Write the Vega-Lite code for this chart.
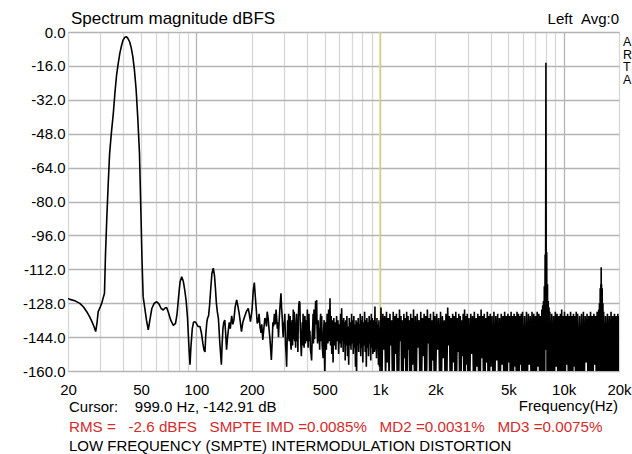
{
  "$schema": "https://vega.github.io/schema/vega-lite/v6.json",
  "width": 551,
  "height": 339,
  "autosize": {"type": "none"},
  "padding": {"left": 68, "top": 32, "right": 13, "bottom": 83},
  "background": "white",
  "config": {
    "font": "Liberation Sans",
    "view": {"stroke": "#a0a0a0", "strokeWidth": 1},
    "text": {"font": "Liberation Sans", "color": "black"}
  },
  "data": {"values": [
    {"f":20,"db":-125.8},{"f":20.5,"db":-126.2},{"f":22,"db":-127},{"f":23.2,"db":-128.1},{"f":24.3,"db":-129.8},{"f":25.3,"db":-132},{"f":26.2,"db":-134.3},{"f":27,"db":-136.7},{"f":27.7,"db":-139},{"f":28.3,"db":-141.4},{"f":28.8,"db":-137},{"f":29.2,"db":-132},{"f":29.9,"db":-130},{"f":30.5,"db":-128.1},{"f":31.1,"db":-125.5},{"f":31.6,"db":-123.3},{"f":32,"db":-105},{"f":32.5,"db":-88.7},{"f":33.1,"db":-72},{"f":33.7,"db":-57.3},{"f":34.5,"db":-47},{"f":35.3,"db":-38.4},{"f":36,"db":-29},{"f":36.7,"db":-21.1},{"f":37.5,"db":-15},{"f":38.3,"db":-10.1},{"f":39.1,"db":-6.5},{"f":39.9,"db":-3.8},{"f":40.7,"db":-2.6},{"f":41.5,"db":-2.2},{"f":42.3,"db":-2.9},{"f":43.3,"db":-4.6},{"f":44.2,"db":-7.5},{"f":45.1,"db":-11.7},{"f":46,"db":-18},{"f":47,"db":-27.4},{"f":48,"db":-41},{"f":49,"db":-57.3},{"f":50,"db":-88.7},{"f":50.6,"db":-108},{"f":51.3,"db":-124.9},{"f":52.3,"db":-130},{"f":53.5,"db":-136},{"f":54.7,"db":-140.6},{"f":55.7,"db":-136.5},{"f":57.2,"db":-130.5},{"f":59,"db":-128},{"f":60.8,"db":-127.3},{"f":62.5,"db":-128.3},{"f":64.3,"db":-130.5},{"f":66,"db":-131.2},{"f":67.5,"db":-130.3},{"f":68.9,"db":-130},{"f":70.5,"db":-132.5},{"f":72.5,"db":-136},{"f":74.9,"db":-138.5},{"f":77,"db":-137.5},{"f":78.5,"db":-133},{"f":80,"db":-125},{"f":81.5,"db":-118},{"f":83.2,"db":-115.5},{"f":84.8,"db":-117.5},{"f":86.5,"db":-122},{"f":88,"db":-127},{"f":89.5,"db":-135},{"f":91,"db":-148},{"f":92.3,"db":-157},{"f":93.5,"db":-148},{"f":95,"db":-140},{"f":96.5,"db":-137},{"f":98.3,"db":-136.7},{"f":100,"db":-137.5},{"f":102,"db":-139},{"f":104.6,"db":-139},{"f":106.5,"db":-142},{"f":108.5,"db":-147},{"f":110,"db":-150},{"f":111.4,"db":-151},{"f":112.5,"db":-143},{"f":114,"db":-137},{"f":115,"db":-135.1},{"f":116.5,"db":-134},{"f":118,"db":-129},{"f":120,"db":-120},{"f":121.5,"db":-114},{"f":123.6,"db":-111.5},{"f":125.5,"db":-115},{"f":127,"db":-121},{"f":128.5,"db":-128},{"f":130,"db":-132},{"f":131.7,"db":-135},{"f":132.5,"db":-138.3},{"f":134,"db":-146},{"f":135.5,"db":-152},{"f":136.8,"db":-157},{"f":138,"db":-148},{"f":139.5,"db":-140},{"f":141,"db":-137},{"f":142.8,"db":-136},{"f":144.3,"db":-142},{"f":146,"db":-150},{"f":147.5,"db":-145},{"f":149,"db":-141.4},{"f":151,"db":-137},{"f":153,"db":-140},{"f":155.7,"db":-134},{"f":158,"db":-138},{"f":160,"db":-136},{"f":162.5,"db":-130},{"f":165.7,"db":-126.5},{"f":168,"db":-129},{"f":171,"db":-132.8},{"f":173.5,"db":-137},{"f":176,"db":-141.4},{"f":179,"db":-137},{"f":183,"db":-134.4},{"f":187,"db":-132},{"f":191.7,"db":-130.4},{"f":194,"db":-133},{"f":197,"db":-136.7},{"f":201,"db":-131},{"f":204,"db":-122},{"f":206.8,"db":-118.3},{"f":209,"db":-124},{"f":212,"db":-131.2},{"f":214.5,"db":-137.5},{"f":217,"db":-136.7},{"f":219.5,"db":-133},{"f":222,"db":-139},{"f":225,"db":-142},{"f":227,"db":-138},{"f":230,"db":-145.3},{"f":233,"db":-140},{"f":236,"db":-135},{"f":238,"db":-135.8},{"f":241,"db":-139},{"f":243,"db":-132},{"f":246,"db":-135.1},{"f":248.5,"db":-140},{"f":251,"db":-144},{"f":253,"db":-148},{"f":256,"db":-154.8},{"f":259,"db":-145},{"f":261,"db":-137},{"f":263,"db":-139},{"f":266,"db":-133},{"f":269,"db":-138},{"f":271.5,"db":-131},{"f":273.6,"db":-135},{"f":276,"db":-140},{"f":278,"db":-137},{"f":280,"db":-144},{"f":282,"db":-137},{"f":285,"db":-130},{"f":288.8,"db":-123.3},{"f":291,"db":-130},{"f":293,"db":-134},{"f":295,"db":-140},{"f":297,"db":-144},{"f":299,"db":-137},
    {"f":300,"db":-140},{"f":303,"db":-133},{"f":306,"db":-148},{"f":308,"db":-152},{"f":310,"db":-158},{"f":312,"db":-146},{"f":314,"db":-136},{"f":316,"db":-145},{"f":318,"db":-133},{"f":320,"db":-146},{"f":322,"db":-139},{"f":324,"db":-134},{"f":326,"db":-147},{"f":328,"db":-150},{"f":330,"db":-140},{"f":332,"db":-136},{"f":334,"db":-148},{"f":337,"db":-131},{"f":339,"db":-145},{"f":341,"db":-132},{"f":343,"db":-146},{"f":345,"db":-138},{"f":347,"db":-149},{"f":349,"db":-137},{"f":351,"db":-133},{"f":353,"db":-146},{"f":355,"db":-138},{"f":357,"db":-151},{"f":359,"db":-135},{"f":361,"db":-129},{"f":363.5,"db":-127},{"f":366,"db":-128},{"f":368,"db":-140},{"f":370,"db":-146},{"f":371.5,"db":-150},{"f":373,"db":-153},{"f":375,"db":-145},{"f":377,"db":-137},{"f":379,"db":-148},{"f":381,"db":-133},{"f":383,"db":-145},{"f":386,"db":-149},{"f":388,"db":-137},{"f":390,"db":-134},{"f":392,"db":-147},{"f":395,"db":-140},{"f":398,"db":-136},{"f":400,"db":-146},{"f":402,"db":-131},{"f":404,"db":-144},{"f":406,"db":-149},{"f":408,"db":-138},{"f":410,"db":-133},{"f":413,"db":-146},{"f":415,"db":-141},{"f":418,"db":-150},{"f":421,"db":-152},{"f":424,"db":-155},{"f":427,"db":-144},{"f":430,"db":-139},{"f":432,"db":-133},{"f":434,"db":-147},{"f":437,"db":-131},{"f":440,"db":-145},{"f":443,"db":-134},{"f":446,"db":-127},{"f":449,"db":-138},{"f":451.7,"db":-126.5},{"f":454,"db":-140},{"f":457,"db":-147},{"f":460,"db":-136},{"f":463,"db":-146},{"f":466,"db":-140},{"f":469,"db":-150},{"f":472,"db":-137},{"f":475,"db":-133},{"f":478,"db":-146},{"f":481,"db":-134},{"f":484,"db":-148},{"f":487,"db":-151},{"f":490,"db":-154},{"f":493,"db":-141},{"f":496,"db":-136},{"f":498,"db":-152},
    {"f":500,"db":-163},{"f":505,"db":-137},{"f":510,"db":-150},{"f":515,"db":-133},{"f":520,"db":-147},{"f":525,"db":-131},{"f":530,"db":-146},{"f":534,"db":-125.7},{"f":538,"db":-148},{"f":542,"db":-134},{"f":546,"db":-152},{"f":550,"db":-136},{"f":555,"db":-156},{"f":560,"db":-135},{"f":565,"db":-148},{"f":570,"db":-137},{"f":575,"db":-150},{"f":580,"db":-134},{"f":585,"db":-146},{"f":590,"db":-136},{"f":595,"db":-152},{"f":600,"db":-138},{"f":605,"db":-147},{"f":610,"db":-133},{"f":614,"db":-149},{"f":618,"db":-130.4},{"f":622,"db":-146},{"f":626,"db":-136},{"f":630,"db":-151},{"f":634,"db":-135},{"f":638,"db":-147},{"f":642,"db":-137},{"f":646,"db":-155},{"f":650,"db":-136},{"f":655,"db":-148},{"f":660,"db":-134},{"f":665,"db":-153},{"f":670,"db":-139},{"f":675,"db":-157},{"f":680,"db":-135},{"f":685,"db":-148},{"f":690,"db":-137},{"f":695,"db":-150},{"f":700,"db":-133},{"f":705,"db":-147},{"f":710,"db":-136},{"f":715,"db":-152},{"f":720,"db":-134},{"f":725,"db":-149},{"f":730,"db":-138},{"f":735,"db":-158},{"f":740,"db":-136},{"f":745,"db":-162},{"f":750,"db":-137},{"f":755,"db":-148},{"f":760,"db":-135},{"f":765,"db":-151},{"f":770,"db":-138},{"f":775,"db":-147},{"f":780,"db":-133},{"f":785,"db":-153},{"f":790,"db":-136},{"f":795,"db":-149},{"f":800,"db":-134},{"f":806,"db":-156},{"f":812,"db":-137},{"f":818,"db":-148},{"f":824,"db":-132},{"f":830,"db":-151},{"f":836,"db":-136},{"f":842,"db":-158},{"f":848,"db":-135},{"f":854,"db":-149},{"f":860,"db":-137},{"f":866,"db":-153},{"f":872,"db":-134},{"f":878,"db":-147},{"f":884,"db":-136},{"f":890,"db":-155},{"f":896,"db":-133},{"f":902,"db":-149},{"f":908,"db":-135},{"f":914,"db":-152},{"f":920,"db":-136},{"f":926,"db":-150},{"f":932,"db":-151},{"f":938,"db":-129.6},{"f":944,"db":-150},{"f":950,"db":-137},{"f":956,"db":-154},{"f":962,"db":-135},{"f":968,"db":-149},{"f":974,"db":-138},{"f":980,"db":-157},{"f":986,"db":-136},{"f":992,"db":-158},{"f":996,"db":-140},{"f":1000,"db":-160},
    {"f":1012,"db":-130},{"f":1024,"db":-165},{"f":1036,"db":-133},{"f":1048,"db":-150},{"f":1060,"db":-134},{"f":1072,"db":-165},{"f":1084,"db":-132},{"f":1096,"db":-156},{"f":1108,"db":-135},{"f":1120,"db":-165},{"f":1132,"db":-133},{"f":1144,"db":-148},{"f":1156,"db":-136},{"f":1168,"db":-165},{"f":1180,"db":-132},{"f":1192,"db":-165},{"f":1204,"db":-134},{"f":1216,"db":-152},{"f":1228,"db":-133},{"f":1240,"db":-165},{"f":1252,"db":-135},{"f":1264,"db":-165},{"f":1276,"db":-131},{"f":1288,"db":-146},{"f":1300,"db":-134},{"f":1312,"db":-165},{"f":1324,"db":-136},{"f":1336,"db":-165},{"f":1348,"db":-133},{"f":1360,"db":-154},{"f":1372,"db":-135},{"f":1384,"db":-165},{"f":1396,"db":-132},{"f":1408,"db":-165},{"f":1420,"db":-134},{"f":1432,"db":-150},{"f":1444,"db":-136},{"f":1456,"db":-165},{"f":1468,"db":-133},{"f":1480,"db":-165},{"f":1492,"db":-135},
    {"f":1504,"db":-157},{"f":1522,"db":-131},{"f":1540,"db":-165},{"f":1558,"db":-134},{"f":1576,"db":-165},{"f":1594,"db":-133},{"f":1612,"db":-149},{"f":1630,"db":-136},{"f":1648,"db":-165},{"f":1666,"db":-132},{"f":1684,"db":-165},{"f":1702,"db":-135},{"f":1720,"db":-153},{"f":1738,"db":-133},{"f":1756,"db":-165},{"f":1774,"db":-134},{"f":1792,"db":-165},{"f":1810,"db":-131},{"f":1828,"db":-147},{"f":1846,"db":-135},{"f":1864,"db":-165},{"f":1882,"db":-133},{"f":1900,"db":-165},{"f":1918,"db":-136},{"f":1936,"db":-155},{"f":1954,"db":-132},{"f":1972,"db":-165},{"f":1990,"db":-134},
    {"f":2010,"db":-165},{"f":2035,"db":-133},{"f":2060,"db":-150},{"f":2085,"db":-135},{"f":2110,"db":-165},{"f":2135,"db":-132},{"f":2160,"db":-165},{"f":2185,"db":-134},{"f":2210,"db":-154},{"f":2235,"db":-136},{"f":2260,"db":-165},{"f":2285,"db":-133},{"f":2310,"db":-165},{"f":2335,"db":-130},{"f":2360,"db":-148},{"f":2385,"db":-134},{"f":2410,"db":-165},{"f":2435,"db":-135},{"f":2460,"db":-165},{"f":2485,"db":-133},{"f":2510,"db":-156},{"f":2535,"db":-134},{"f":2560,"db":-165},{"f":2585,"db":-132},{"f":2610,"db":-165},{"f":2635,"db":-135},{"f":2660,"db":-151},{"f":2685,"db":-133},{"f":2710,"db":-165},{"f":2735,"db":-134},{"f":2760,"db":-165},{"f":2785,"db":-136},{"f":2810,"db":-153},{"f":2835,"db":-133},{"f":2860,"db":-165},{"f":2885,"db":-131},{"f":2910,"db":-165},{"f":2935,"db":-134},{"f":2960,"db":-157},{"f":2985,"db":-133},
    {"f":3010,"db":-165},{"f":3046,"db":-135},{"f":3082,"db":-165},{"f":3118,"db":-133},{"f":3154,"db":-152},{"f":3190,"db":-134},{"f":3226,"db":-165},{"f":3262,"db":-132},{"f":3298,"db":-165},{"f":3334,"db":-135},{"f":3370,"db":-158},{"f":3406,"db":-133},{"f":3442,"db":-165},{"f":3478,"db":-134},{"f":3514,"db":-165},{"f":3550,"db":-131},{"f":3586,"db":-154},{"f":3622,"db":-134},{"f":3658,"db":-165},{"f":3694,"db":-133},{"f":3730,"db":-165},{"f":3766,"db":-135},{"f":3802,"db":-156},{"f":3838,"db":-132},{"f":3874,"db":-165},{"f":3910,"db":-134},{"f":3946,"db":-165},{"f":3982,"db":-133},
    {"f":4020,"db":-158},{"f":4070,"db":-134},{"f":4120,"db":-165},{"f":4170,"db":-132},{"f":4220,"db":-165},{"f":4270,"db":-134},{"f":4320,"db":-155},{"f":4370,"db":-133},{"f":4420,"db":-165},{"f":4470,"db":-135},{"f":4520,"db":-165},{"f":4570,"db":-133},{"f":4620,"db":-157},{"f":4670,"db":-134},{"f":4720,"db":-165},{"f":4770,"db":-132},{"f":4820,"db":-165},{"f":4870,"db":-134},{"f":4920,"db":-165},{"f":4970,"db":-133},{"f":5020,"db":-156},{"f":5070,"db":-134},{"f":5120,"db":-165},{"f":5170,"db":-132},{"f":5220,"db":-165},{"f":5270,"db":-134},{"f":5320,"db":-165},{"f":5370,"db":-133},{"f":5420,"db":-158},{"f":5470,"db":-134},{"f":5520,"db":-165},{"f":5570,"db":-132},{"f":5620,"db":-165},{"f":5670,"db":-133},{"f":5720,"db":-165},{"f":5770,"db":-134},{"f":5820,"db":-157},{"f":5870,"db":-133},{"f":5920,"db":-165},{"f":5970,"db":-132},
    {"f":6045,"db":-165},{"f":6120,"db":-134},{"f":6195,"db":-165},{"f":6270,"db":-132},{"f":6345,"db":-165},{"f":6420,"db":-133},{"f":6495,"db":-157},{"f":6570,"db":-134},{"f":6645,"db":-165},{"f":6720,"db":-132},{"f":6795,"db":-165},{"f":6870,"db":-133},{"f":6945,"db":-165},{"f":7020,"db":-134},{"f":7095,"db":-165},{"f":7170,"db":-132},{"f":7245,"db":-158},{"f":7320,"db":-133},{"f":7395,"db":-165},{"f":7470,"db":-134},{"f":7545,"db":-165},
    {"f":7600,"db":-131},{"f":7640,"db":-165},{"f":7680,"db":-129},{"f":7720,"db":-165},{"f":7760,"db":-127},{"f":7800,"db":-165},{"f":7840,"db":-120},{"f":7880,"db":-165},{"f":7920,"db":-105},{"f":7960,"db":-150},{"f":8000,"db":-14.5},{"f":8040,"db":-150},{"f":8080,"db":-104},{"f":8120,"db":-165},{"f":8160,"db":-119},{"f":8200,"db":-165},{"f":8240,"db":-127},{"f":8280,"db":-165},{"f":8320,"db":-130},{"f":8360,"db":-165},{"f":8400,"db":-132},
    {"f":8500,"db":-165},{"f":8600,"db":-133},{"f":8700,"db":-165},{"f":8800,"db":-134},{"f":8900,"db":-165},{"f":9000,"db":-132},{"f":9100,"db":-158},{"f":9200,"db":-133},{"f":9300,"db":-165},{"f":9400,"db":-134},{"f":9500,"db":-165},{"f":9600,"db":-133},{"f":9700,"db":-165},{"f":9750,"db":-131},{"f":9800,"db":-165},{"f":9900,"db":-134},{"f":10000,"db":-165},{"f":10100,"db":-132},{"f":10200,"db":-165},{"f":10300,"db":-134},{"f":10400,"db":-157},{"f":10500,"db":-133},{"f":10600,"db":-165},{"f":10700,"db":-134},{"f":10800,"db":-165},{"f":10900,"db":-132},{"f":11000,"db":-165},{"f":11100,"db":-134},{"f":11200,"db":-165},{"f":11300,"db":-133},{"f":11400,"db":-158},{"f":11500,"db":-134},{"f":11600,"db":-165},{"f":11700,"db":-132},{"f":11800,"db":-165},{"f":11900,"db":-133},
    {"f":12050,"db":-165},{"f":12200,"db":-134},{"f":12350,"db":-165},{"f":12500,"db":-133},{"f":12650,"db":-165},{"f":12800,"db":-132},{"f":12950,"db":-165},{"f":13100,"db":-134},{"f":13250,"db":-156},{"f":13400,"db":-133},{"f":13550,"db":-165},{"f":13700,"db":-134},{"f":13850,"db":-165},{"f":14000,"db":-132},{"f":14150,"db":-165},{"f":14300,"db":-134},{"f":14450,"db":-165},{"f":14600,"db":-133},{"f":14750,"db":-157},{"f":14900,"db":-134},{"f":15050,"db":-165},{"f":15200,"db":-132},{"f":15350,"db":-165},{"f":15500,"db":-131},
    {"f":15575,"db":-165},{"f":15650,"db":-128},{"f":15725,"db":-165},{"f":15800,"db":-121},{"f":15875,"db":-165},{"f":15930,"db":-119},{"f":15965,"db":-150},{"f":16000,"db":-111},{"f":16035,"db":-150},{"f":16070,"db":-119},{"f":16125,"db":-165},{"f":16200,"db":-121},{"f":16275,"db":-165},{"f":16350,"db":-128},{"f":16425,"db":-165},{"f":16500,"db":-132},
    {"f":16700,"db":-165},{"f":16900,"db":-134},{"f":17100,"db":-165},{"f":17300,"db":-133},{"f":17500,"db":-165},{"f":17700,"db":-134},{"f":17900,"db":-165},{"f":18100,"db":-132},{"f":18300,"db":-165},{"f":18500,"db":-134},{"f":18700,"db":-165},{"f":18900,"db":-133},{"f":19100,"db":-165},{"f":19300,"db":-134},{"f":19500,"db":-165},{"f":19700,"db":-133},{"f":19900,"db":-165},{"f":20000,"db":-134}
  ]},
  "layer": [
    {
      "data": {"values": [{"cursor": 999}]},
      "mark": {"type": "rule", "color": "#e0e070", "strokeWidth": 1.2},
      "encoding": {"x": {"field": "cursor", "type": "quantitative"}}
    },
    {
      "mark": {"type": "line", "color": "black", "strokeWidth": 1.6, "clip": true, "strokeJoin": "bevel"},
      "encoding": {
        "x": {
          "field": "f", "type": "quantitative",
          "scale": {"type": "log", "domain": [20, 20000], "nice": false},
          "axis": {
            "values": [20,30,40,50,60,70,80,90,100,200,300,400,500,600,700,800,900,1000,2000,3000,4000,5000,6000,7000,8000,9000,10000,20000],
            "tickCount": 40,
            "labelExpr": "indexof([20,50,100,200,500,1000,2000,5000,10000,20000], datum.value) >= 0 ? (datum.value >= 1000 ? (datum.value/1000) + 'k' : '' + datum.value) : ''",
            "grid": true,
            "gridColor": {"condition": {"test": "datum.value == 100 || datum.value == 1000 || datum.value == 10000", "value": "#b4b4b4"}, "value": "#d8d8d8"},
            "gridWidth": 1.3,
            "ticks": false,
            "domain": false,
            "labelFont": "Liberation Sans",
            "labelFontSize": 15,
            "labelColor": "black",
            "labelPadding": 11,
            "labelFlush": false,
            "labelOverlap": false,
            "title": null
          }
        },
        "y": {
          "field": "db", "type": "quantitative",
          "scale": {"domain": [-160, 0], "nice": false, "zero": false},
          "axis": {
            "values": [-160,-144,-128,-112,-96,-80,-64,-48,-32,-16,0],
            "tickCount": 20,
            "labelExpr": "(datum.value < 0 ? '-' : '') + format(abs(datum.value), '.1f')",
            "grid": true,
            "gridColor": "#b4b4b4",
            "gridWidth": 1.3,
            "ticks": false,
            "domain": false,
            "labelFont": "Liberation Sans",
            "labelFontSize": 15,
            "labelColor": "black",
            "labelPadding": 3,
            "labelOverlap": false,
            "title": null
          }
        }
      }
    },
    {
      "data": {"values": [{"t": "Spectrum magnitude dBFS"}]},
      "mark": {"type": "text", "align": "left", "baseline": "alphabetic", "fontSize": 17, "dx": 3, "dy": -8},
      "encoding": {"text": {"field": "t"}, "x": {"datum": 20}, "y": {"datum": 0}}
    },
    {
      "data": {"values": [{"t": "Left\u00a0\u00a0Avg:0"}]},
      "mark": {"type": "text", "align": "right", "baseline": "alphabetic", "fontSize": 15, "dy": -8},
      "encoding": {"text": {"field": "t"}, "x": {"datum": 20000}, "y": {"datum": 0}}
    },
    {
      "data": {"values": [{"t": "A\nR\nT\nA"}]},
      "mark": {"type": "text", "align": "left", "baseline": "top", "fontSize": 12.5, "lineBreak": "\n", "lineHeight": 12.5, "dx": 4, "dy": 4},
      "encoding": {"text": {"field": "t"}, "x": {"datum": 20000}, "y": {"datum": 0}}
    },
    {
      "data": {"values": [{"t": "Cursor:\u00a0\u00a0\u00a0\u00a0999.0 Hz, -142.91 dB"}]},
      "mark": {"type": "text", "align": "left", "baseline": "alphabetic", "fontSize": 15, "dx": 1, "dy": 41},
      "encoding": {"text": {"field": "t"}, "x": {"datum": 20}, "y": {"datum": -160}}
    },
    {
      "data": {"values": [{"t": "Frequency(Hz)"}]},
      "mark": {"type": "text", "align": "right", "baseline": "alphabetic", "fontSize": 15, "dx": -1, "dy": 40},
      "encoding": {"text": {"field": "t"}, "x": {"datum": 20000}, "y": {"datum": -160}}
    },
    {
      "data": {"values": [{"t": "RMS =\u00a0\u00a0\u00a0-2.6 dBFS\u00a0\u00a0\u00a0SMPTE IMD =0.0085%\u00a0\u00a0\u00a0MD2 =0.0031%\u00a0\u00a0\u00a0MD3 =0.0075%"}]},
      "mark": {"type": "text", "align": "left", "baseline": "alphabetic", "fontSize": 15.2, "color": "#d42c2c", "dx": 1, "dy": 61},
      "encoding": {"text": {"field": "t"}, "x": {"datum": 20}, "y": {"datum": -160}}
    },
    {
      "data": {"values": [{"t": "LOW FREQUENCY (SMPTE) INTERMODULATION DISTORTION"}]},
      "mark": {"type": "text", "align": "left", "baseline": "alphabetic", "fontSize": 15, "dx": 1, "dy": 80},
      "encoding": {"text": {"field": "t"}, "x": {"datum": 20}, "y": {"datum": -160}}
    }
  ]
}
